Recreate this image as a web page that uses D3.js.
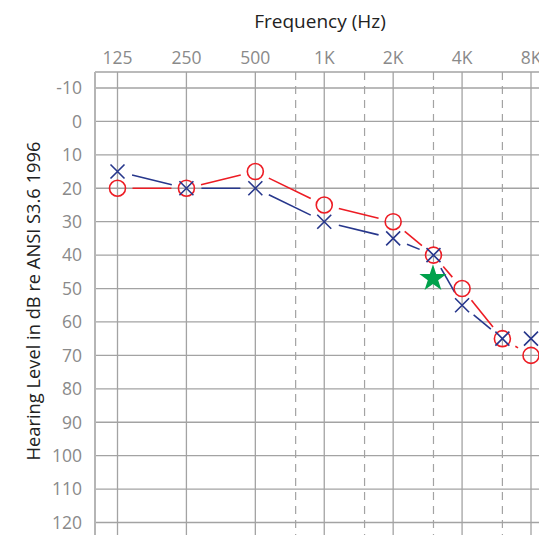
<!DOCTYPE html>
<html><head><meta charset="utf-8">
<script src="https://cdn.jsdelivr.net/npm/d3@7"></script>
<style>
html,body{margin:0;padding:0;background:#fff;overflow:hidden;}
svg{display:block;font-family:"Open Sans",sans-serif;}
</style></head>
<body>
<svg id="chart" width="539" height="535"></svg>
<script>
const freqs = [125, 250, 500, 1000, 2000, 3000, 4000, 6000, 8000];
const octaveFreqs = [125, 250, 500, 1000, 2000, 4000, 8000];
const octaveLabels = ["125", "250", "500", "1K", "2K", "4K", "8K"];
const interFreqs = [750, 1500, 3000, 6000];
const yTicks = [-10, 0, 10, 20, 30, 40, 50, 60, 70, 80, 90, 100, 110, 120];
const rightEar = [20, 20, 15, 25, 30, 40, 50, 65, 70];
const leftEar = [15, 20, 20, 30, 35, 40, 55, 65, 65];
const starFreq = [3000];
const starLevel = [47];

const svg = d3.select("#chart");
const x = d3.scaleLog().base(2).domain([125, 8000]).range([117.5, 531]);
const y = d3.scaleLinear().domain([-10, 120]).range([88, 522.5]);
const pLeft = 95, pTop = 72, pRight = 545, pBottom = 540;
const grid = "#a3a3a3";

const g = svg.append("g");
g.selectAll(".h").data(yTicks).join("line")
  .attr("x1", pLeft).attr("x2", pRight)
  .attr("y1", d => y(d)).attr("y2", d => y(d))
  .attr("stroke", grid).attr("stroke-width", 1.3);
g.selectAll(".v").data(octaveFreqs).join("line")
  .attr("x1", d => x(d)).attr("x2", d => x(d))
  .attr("y1", pTop).attr("y2", pBottom)
  .attr("stroke", grid).attr("stroke-width", 1.3);
g.selectAll(".vd").data(interFreqs).join("line")
  .attr("x1", d => x(d)).attr("x2", d => x(d))
  .attr("y1", pTop).attr("y2", pBottom)
  .attr("stroke", grid).attr("stroke-width", 1.2).attr("stroke-dasharray", "8,6");
g.append("line").attr("x1", pLeft).attr("x2", pRight).attr("y1", pTop).attr("y2", pTop)
  .attr("stroke", grid).attr("stroke-width", 1.5);
g.append("line").attr("x1", pLeft).attr("x2", pLeft).attr("y1", pTop).attr("y2", pBottom)
  .attr("stroke", "#b5b5b5").attr("stroke-width", 2);

svg.selectAll(".xl").data(octaveFreqs).join("text")
  .attr("x", d => x(d)).attr("y", 64)
  .attr("text-anchor", "middle").attr("font-size", 17.5).attr("fill", "#8a8a8a")
  .text((d, i) => octaveLabels[i]);
svg.selectAll(".yl").data(yTicks).join("text")
  .attr("x", 82).attr("y", d => y(d)).attr("dy", "0.36em")
  .attr("text-anchor", "end").attr("font-size", 17.5).attr("fill", "#8a8a8a")
  .text(d => d);
svg.append("text").attr("x", 320).attr("y", 28).attr("text-anchor", "middle")
  .attr("font-size", 19).attr("fill", "#222").text("Frequency (Hz)");
svg.append("text").attr("transform", "translate(40,301) rotate(-90)")
  .attr("text-anchor", "middle").attr("font-size", 18.3).attr("fill", "#222")
  .text("Hearing Level in dB re ANSI S3.6 1996");

function drawSeries(vals, color, gap) {
  const pts = freqs.map((f, i) => [x(f), y(vals[i])]);
  const segs = [];
  for (let i = 0; i < pts.length - 1; i++) {
    const [x1, y1] = pts[i], [x2, y2] = pts[i + 1];
    const len = Math.hypot(x2 - x1, y2 - y1);
    const ux = (x2 - x1) / len, uy = (y2 - y1) / len;
    if (len > 2 * gap) segs.push([x1 + ux * gap, y1 + uy * gap, x2 - ux * gap, y2 - uy * gap]);
  }
  svg.append("g").selectAll("line").data(segs).join("line")
    .attr("x1", d => d[0]).attr("y1", d => d[1]).attr("x2", d => d[2]).attr("y2", d => d[3])
    .attr("stroke", color).attr("stroke-width", 1.6);
  return pts;
}
const red = "#ed1c24", blue = "#27378c";
const rp = drawSeries(rightEar, red, 15);
const lp = drawSeries(leftEar, blue, 15);

svg.append("g").selectAll("circle").data(rp).join("circle")
  .attr("cx", d => d[0]).attr("cy", d => d[1]).attr("r", 8)
  .attr("fill", "none").attr("stroke", red).attr("stroke-width", 1.6);
const s = 7;
svg.append("g").selectAll("path").data(lp).join("path")
  .attr("d", d => `M${d[0]-s},${d[1]-s}L${d[0]+s},${d[1]+s}M${d[0]-s},${d[1]+s}L${d[0]+s},${d[1]-s}`)
  .attr("fill", "none").attr("stroke", blue).attr("stroke-width", 1.6);

const star = d3.symbol().type(d3.symbolStar).size(230);
svg.append("g").selectAll("path").data(starFreq).join("path")
  .attr("transform", (d, i) => `translate(${x(d) - 0.5},${y(starLevel[i])})`)
  .attr("d", star).attr("fill", "#00a14b");
</script>
</body></html>
